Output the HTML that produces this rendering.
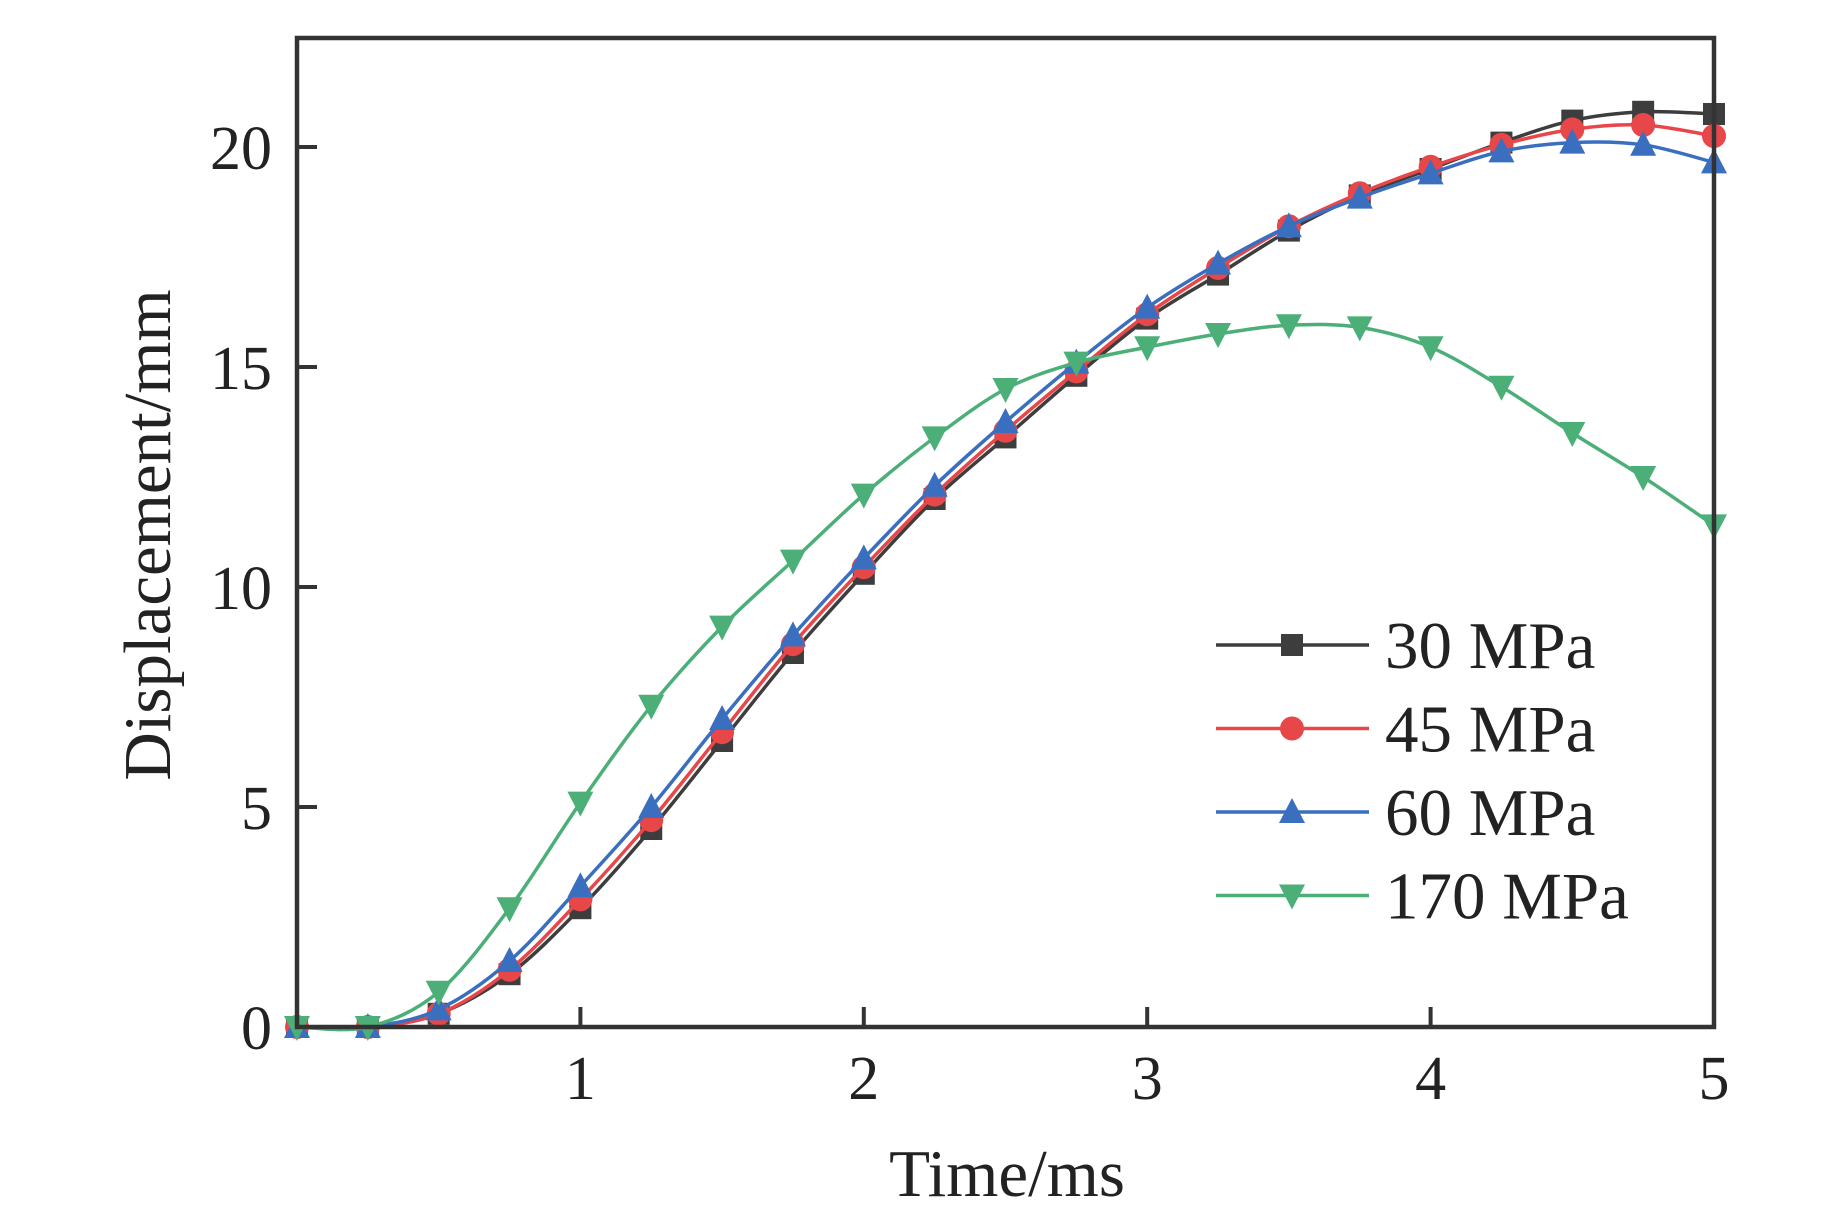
<!DOCTYPE html>
<html><head><meta charset="utf-8"><style>
html,body{margin:0;padding:0;background:#fff}
svg text{font-family:"Liberation Serif",serif;fill:#222}
</style></head><body>
<svg id="chart" width="1843" height="1214" viewBox="0 0 1843 1214">
<g id="plot"></g>
<rect x="297" y="38" width="1417" height="989" fill="none" stroke="#333" stroke-width="4.5"/>
<g id="axes"></g>
<text x="1007" y="1196" text-anchor="middle" font-size="67">Time/ms</text>
<text transform="translate(170,535) rotate(-90)" text-anchor="middle" font-size="67">Displacement/mm</text>
<g id="legend"></g>
</svg>
<script>
const times=[0,0.25,0.5,0.75,1,1.25,1.5,1.75,2,2.25,2.5,2.75,3,3.25,3.5,3.75,4,4.25,4.5,4.75,5];
const s30=[0,0,0.3,1.2,2.7,4.5,6.5,8.5,10.3,12.0,13.4,14.8,16.1,17.1,18.1,18.9,19.5,20.1,20.6,20.8,20.75];
const s45=[0,0,0.3,1.3,2.9,4.7,6.7,8.7,10.45,12.1,13.55,14.9,16.2,17.25,18.2,18.95,19.55,20.05,20.4,20.5,20.25];
const s60=[0,0,0.4,1.5,3.2,5.0,7.0,8.9,10.65,12.3,13.75,15.1,16.35,17.35,18.2,18.85,19.4,19.9,20.1,20.05,19.65];
const s170=[0,0,0.8,2.7,5.1,7.3,9.1,10.6,12.1,13.4,14.5,15.1,15.45,15.75,15.95,15.9,15.45,14.55,13.5,12.5,11.4];
const seriesNames=["30 MPa","45 MPa","60 MPa","170 MPa"];
const xTicks=[1,2,3,4,5];
const yTicks=[0,5,10,15,20];
const NS="http://www.w3.org/2000/svg";
const X=t=>297+t*(1714-297)/5;
const Y=v=>1027-v*44.0;
function mk(tag,attrs,parent){const e=document.createElementNS(NS,tag);for(const k in attrs)e.setAttribute(k,attrs[k]);parent.appendChild(e);return e;}
const axes=document.getElementById('axes');
xTicks.forEach(t=>{
 const l=mk('line',{x1:X(t),x2:X(t),y1:1027,y2:1007,stroke:'#333','stroke-width':4},axes);
 
 
 const tx=mk('text',{x:X(t),y:1099,'text-anchor':'middle','font-size':62},axes);tx.textContent=t;
 
 
});
yTicks.forEach(v=>{
 const l=mk('line',{x1:297,x2:317,y1:Y(v),y2:Y(v),stroke:'#333','stroke-width':4},axes);
 
 
 const tx=mk('text',{x:272,y:Y(v)+22,'text-anchor':'end','font-size':62},axes);tx.textContent=v;
 
 
});
function spline(pts){let d=`M${pts[0][0]},${pts[0][1]}`;for(let i=0;i<pts.length-1;i++){const p0=pts[Math.max(0,i-1)],p1=pts[i],p2=pts[i+1],p3=pts[Math.min(pts.length-1,i+2)];d+=` C${p1[0]+(p2[0]-p0[0])/6},${p1[1]+(p2[1]-p0[1])/6} ${p2[0]-(p3[0]-p1[0])/6},${p2[1]-(p3[1]-p1[1])/6} ${p2[0]},${p2[1]}`;}return d;}
function marker(type,x,y,color,parent){
 const r=11;let e;
 if(type==='sq')e=mk('rect',{x:x-r,y:y-r,width:2*r,height:2*r,fill:color},parent);
 else if(type==='ci')e=mk('circle',{cx:x,cy:y,r:r+1,fill:color},parent);
 else if(type==='up')e=mk('polygon',{points:`${x},${y-r-3} ${x-r-2},${y+r} ${x+r+2},${y+r}`,fill:color},parent);
 else e=mk('polygon',{points:`${x},${y+r+3} ${x-r-2},${y-r} ${x+r+2},${y-r}`,fill:color},parent);
 return e;
}
const all=[s30,s45,s60,s170],colors=['#3d3d3d','#e8474a','#3a6fc0','#4caf78'],types=['sq','ci','up','dn'];
const plot=document.getElementById('plot'),legend=document.getElementById('legend');
all.forEach((s,k)=>{
 const g=mk('g',{},plot);
 
 
 const pts=times.map((t,i)=>[X(t),Y(s[i])]);
 const p=mk('path',{d:spline(pts),fill:'none',stroke:colors[k],'stroke-width':3.5},g);
 
 
 pts.forEach(q=>{const m=marker(types[k],q[0],q[1],colors[k],g);
  
  });
 const ly=645+k*83.5;
 const lg=mk('g',{},legend);
 
 
 mk('line',{x1:1216,x2:1369,y1:ly,y2:ly,stroke:colors[k],'stroke-width':3.5},lg);
 marker(types[k],1292,ly,colors[k],lg);
 const tx=mk('text',{x:1385,y:ly+23,'font-size':67},lg);tx.textContent=seriesNames[k];
});
</script>
</body></html>
